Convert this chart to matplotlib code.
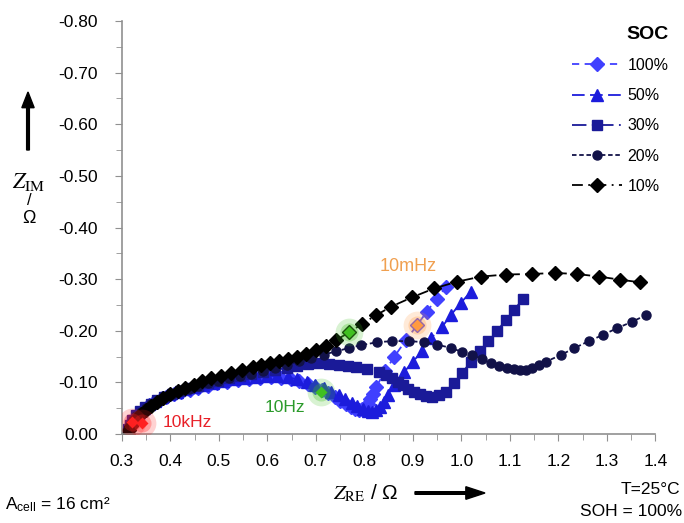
import matplotlib
matplotlib.use("Agg")
import matplotlib.pyplot as plt
from matplotlib.ticker import MultipleLocator, FormatStrFormatter

plt.rcParams['font.family'] = ['Liberation Sans', 'DejaVu Sans']
plt.rcParams['axes.unicode_minus'] = False
plt.rcParams['mathtext.fontset'] = 'stix'

# Nyquist data: Z_RE (Ohm) and -Z_IM (Ohm)
re_100 = [0.310, 0.313, 0.317, 0.322, 0.328, 0.335, 0.344, 0.354, 0.365, 0.378, 0.392, 0.407,
          0.423, 0.440, 0.458, 0.477, 0.497, 0.518, 0.540, 0.562, 0.585, 0.607, 0.628, 0.648,
          0.666, 0.683, 0.698, 0.712, 0.726, 0.739, 0.751, 0.762, 0.772, 0.781, 0.789, 0.796,
          0.802, 0.807, 0.812, 0.818, 0.825, 0.843, 0.862, 0.886, 0.909, 0.929, 0.949, 0.969]
im_100 = [0.000, 0.008, 0.016, 0.024, 0.032, 0.040, 0.047, 0.054, 0.060, 0.066, 0.072, 0.077,
          0.082, 0.086, 0.090, 0.094, 0.098, 0.101, 0.104, 0.107, 0.109, 0.110, 0.109, 0.106,
          0.102, 0.097, 0.092, 0.086, 0.079, 0.072, 0.065, 0.059, 0.053, 0.049, 0.047, 0.048,
          0.052, 0.058, 0.067, 0.077, 0.092, 0.122, 0.150, 0.182, 0.211, 0.237, 0.262, 0.285]

re_50 = [0.308, 0.311, 0.315, 0.320, 0.327, 0.335, 0.345, 0.356, 0.369, 0.383, 0.398, 0.414,
         0.431, 0.449, 0.468, 0.488, 0.509, 0.531, 0.553, 0.576, 0.599, 0.621, 0.642, 0.662,
         0.681, 0.699, 0.716, 0.732, 0.747, 0.761, 0.774, 0.786, 0.797, 0.807, 0.816, 0.825,
         0.833, 0.840, 0.848, 0.862, 0.882, 0.900, 0.919, 0.938, 0.960, 0.979, 0.999, 1.020]
im_50 = [0.000, 0.008, 0.017, 0.026, 0.035, 0.043, 0.051, 0.058, 0.065, 0.071, 0.077, 0.082,
         0.087, 0.091, 0.095, 0.099, 0.102, 0.106, 0.109, 0.111, 0.113, 0.112, 0.110, 0.106,
         0.101, 0.095, 0.089, 0.082, 0.075, 0.068, 0.061, 0.054, 0.048, 0.044, 0.043, 0.046,
         0.052, 0.062, 0.076, 0.095, 0.120, 0.140, 0.160, 0.186, 0.207, 0.231, 0.254, 0.276]

re_30 = [0.309, 0.312, 0.316, 0.322, 0.329, 0.338, 0.348, 0.360, 0.373, 0.388, 0.404, 0.421,
         0.439, 0.458, 0.478, 0.499, 0.521, 0.544, 0.567, 0.591, 0.615, 0.640, 0.662, 0.683,
         0.704, 0.728, 0.748, 0.766, 0.783, 0.806, 0.831, 0.845, 0.858, 0.869, 0.879, 0.891,
         0.903, 0.915, 0.928, 0.940, 0.955, 0.968, 0.985, 1.002, 1.020, 1.038, 1.055, 1.074,
         1.092, 1.109, 1.128]
im_30 = [0.000, 0.009, 0.018, 0.027, 0.036, 0.044, 0.052, 0.059, 0.066, 0.072, 0.078, 0.084,
         0.089, 0.094, 0.099, 0.103, 0.108, 0.112, 0.116, 0.120, 0.124, 0.128, 0.132, 0.135,
         0.137, 0.136, 0.134, 0.132, 0.130, 0.126, 0.120, 0.114, 0.108, 0.101, 0.095, 0.088,
         0.081, 0.077, 0.073, 0.072, 0.075, 0.082, 0.099, 0.119, 0.140, 0.160, 0.180, 0.200,
         0.221, 0.241, 0.262]

re_20 = [0.310, 0.313, 0.317, 0.323, 0.330, 0.339, 0.349, 0.361, 0.374, 0.388, 0.404, 0.421,
         0.439, 0.458, 0.478, 0.499, 0.521, 0.544, 0.567, 0.591, 0.615, 0.640, 0.665, 0.690,
         0.716, 0.742, 0.769, 0.793, 0.827, 0.858, 0.893, 0.923, 0.951, 0.978, 1.002, 1.022,
         1.043, 1.061, 1.078, 1.095, 1.109, 1.121, 1.133, 1.146, 1.160, 1.174, 1.205, 1.232,
         1.263, 1.292, 1.321, 1.351, 1.380]
im_20 = [0.000, 0.009, 0.018, 0.027, 0.035, 0.043, 0.051, 0.058, 0.065, 0.071, 0.077, 0.083,
         0.088, 0.093, 0.098, 0.103, 0.108, 0.112, 0.117, 0.122, 0.128, 0.134, 0.141, 0.148,
         0.154, 0.160, 0.167, 0.172, 0.178, 0.180, 0.180, 0.178, 0.173, 0.167, 0.159, 0.153,
         0.145, 0.137, 0.131, 0.128, 0.126, 0.124, 0.124, 0.128, 0.134, 0.140, 0.153, 0.166,
         0.180, 0.192, 0.205, 0.217, 0.230]

re_10 = [0.312, 0.315, 0.319, 0.325, 0.332, 0.340, 0.350, 0.361, 0.373, 0.386, 0.400, 0.415,
         0.431, 0.448, 0.466, 0.485, 0.505, 0.526, 0.548, 0.571, 0.588, 0.605, 0.625, 0.642,
         0.662, 0.680, 0.701, 0.722, 0.742, 0.769, 0.795, 0.824, 0.856, 0.899, 0.944, 0.991,
         1.041, 1.092, 1.145, 1.193, 1.238, 1.284, 1.327, 1.368]
im_10 = [0.000, 0.008, 0.016, 0.024, 0.031, 0.038, 0.046, 0.054, 0.062, 0.070, 0.077, 0.084,
         0.090, 0.096, 0.102, 0.108, 0.113, 0.118, 0.124, 0.130, 0.134, 0.137, 0.141, 0.145,
         0.150, 0.156, 0.163, 0.171, 0.182, 0.197, 0.213, 0.230, 0.247, 0.265, 0.282, 0.295,
         0.305, 0.309, 0.310, 0.312, 0.310, 0.305, 0.299, 0.294]

# frequency markers (10 kHz, 10 Hz, 10 mHz)
khz_re = [0.321, 0.341]
khz_im = [0.023, 0.021]
hz_re = [0.711, 0.769]
hz_im = [0.081, 0.198]
mhz_re = [0.909]
mhz_im = [0.211]

fig = plt.figure(figsize=(6.84, 5.23), dpi=100)
ax = fig.add_axes([0.178, 0.170, 0.780, 0.790])

ax.plot(re_100, [-v for v in im_100], color='#4040ff', marker='D', ms=7, lw=1.3,
        dashes=(4, 3), label='100%')
ax.plot(re_50, [-v for v in im_50], color='#1c1cdc', marker='^', ms=9, lw=1.3,
        dashes=(7, 3), label='50%')
ax.plot(re_30, [-v for v in im_30], color='#1a1a98', marker='s', ms=6.5, lw=1.3,
        dashes=(8, 3, 1, 3), label='30%')
ax.plot(re_20, [-v for v in im_20], color='#121248', marker='o', ms=6.5, lw=1.3,
        dashes=(2.5, 1.5), label='20%')
ax.plot(re_10, [-v for v in im_10], color='black', marker='D', ms=7.5, lw=1.3,
        dashes=(6, 3, 1, 3), label='10%')

# glowing highlight markers
for xs, ys, col in [(khz_re, khz_im, '#ff2020'), (hz_re, hz_im, '#40c020'),
                    (mhz_re, mhz_im, '#ff9a40')]:
    ys = [-v for v in ys]
    ax.plot(xs, ys, 'o', color=col, ms=20, alpha=0.2, mec='none', zorder=5)
    ax.plot(xs, ys, 'o', color=col, ms=13, alpha=0.3, mec='none', zorder=5)
    ax.plot(xs, ys, 'D', color=col, ms=6, mec='none', zorder=6)

ax.text(0.385, -0.023, '10kHz', color='#e82028', fontsize=12.5, va='center', ha='left')
ax.text(0.595, -0.052, '10Hz', color='#2a9a2a', fontsize=12.5, va='center', ha='left')
ax.text(0.832, -0.325, '10mHz', color='#f0a050', fontsize=13, va='center', ha='left')

ax.set_xlim(0.3, 1.4)
ax.set_ylim(0, -0.8)
ax.xaxis.set_major_locator(MultipleLocator(0.1))
ax.xaxis.set_minor_locator(MultipleLocator(0.05))
ax.yaxis.set_major_locator(MultipleLocator(0.1))
ax.yaxis.set_minor_locator(MultipleLocator(0.05))
ax.xaxis.set_major_formatter(FormatStrFormatter('%.1f'))
ax.yaxis.set_major_formatter(FormatStrFormatter('%.2f'))
for s in ['top', 'right']:
    ax.spines[s].set_visible(False)
for s in ['left', 'bottom']:
    ax.spines[s].set_color('#909090')
    ax.spines[s].set_linewidth(1.2)
ax.tick_params(which='both', direction='out', color='#909090', labelsize=12.5)
ax.tick_params(axis='x', pad=9)
ax.tick_params(axis='y', pad=12)
ax.tick_params(which='major', length=5)
ax.tick_params(which='minor', length=4)

leg = ax.legend(loc='upper right', bbox_to_anchor=(0.998, 0.978), bbox_transform=fig.transFigure,
                frameon=False, fontsize=11.5, handlelength=3.1, labelspacing=0.95,
                handletextpad=0.35, title='SOC', alignment='right')
leg.get_title().set_fontweight('bold')
leg.get_title().set_fontsize(14)

# axis labels with arrows
fig.text(29 / 684, 1 - 182 / 523, r'$\mathit{Z}_{\mathrm{IM}}$', fontsize=16, ha='center', va='center')
fig.text(29 / 684, 1 - 201 / 523, '/', fontsize=12, ha='center', va='center')
fig.text(29 / 684, 1 - 218 / 523, 'Ω', fontsize=13, ha='center', va='center')
fig.patches.append(matplotlib.patches.FancyArrow(28 / 684, 1 - 150 / 523, 0, 58 / 523, width=0.004,
                                                 head_width=0.018, head_length=0.03, color='black',
                                                 transform=fig.transFigure, length_includes_head=True))

fig.text(366 / 684, 1 - 493 / 523, r'$\mathit{Z}_{\mathrm{RE}}$ / Ω', fontsize=15, ha='center', va='center')
fig.patches.append(matplotlib.patches.FancyArrow(415 / 684, 1 - 493 / 523, 70 / 684, 0, width=0.005,
                                                 head_width=0.024, head_length=0.028, color='black',
                                                 transform=fig.transFigure, length_includes_head=True))

fig.text(5 / 684, 1 - 505 / 523, r'A$_{\mathregular{cell}}$ = 16 cm²', fontsize=12.5, ha='left', va='center')
fig.text(680 / 684, 1 - 490 / 523, 'T=25°C', fontsize=12.5, ha='right', va='center')
fig.text(682 / 684, 1 - 511 / 523, 'SOH = 100%', fontsize=12.5, ha='right', va='center')

fig.savefig('out.png', dpi=100)
